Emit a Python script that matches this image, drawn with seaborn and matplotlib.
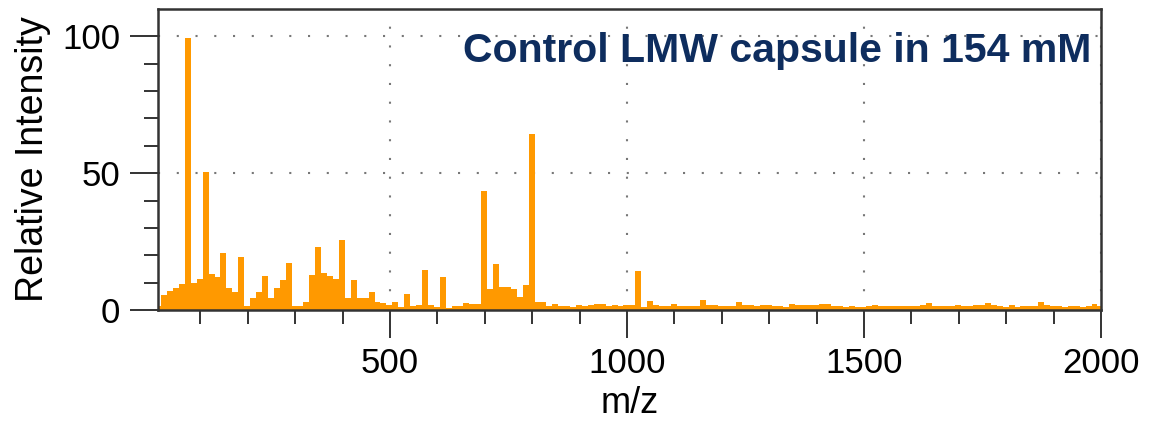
import numpy as np
import pandas as pd
import matplotlib
matplotlib.use("Agg")
import matplotlib.pyplot as plt
import seaborn as sns

# Spectrum binned at 12.5 m/z, first bin starts at m/z 5
bin_start = 5
bin_width = 12.5
intensity = [
    1.6, 5.6, 6.8, 8.0, 9.5, 99.4, 10.0, 11.5, 50.3, 13.0,
    12.0, 21.0, 8.2, 6.4, 19.2, 1.5, 4.2, 6.5, 12.5, 4.2,
    7.9, 11.0, 17.3, 1.5, 1.5, 2.8, 12.7, 23.0, 13.5, 12.4,
    11.5, 25.7, 4.5, 11.0, 4.5, 4.5, 6.7, 2.8, 2.4, 1.8,
    2.8, 1.2, 6.0, 1.5, 1.8, 14.5, 2.0, 1.2, 12.0, 0.9,
    1.5, 1.5, 2.4, 2.2, 2.2, 43.6, 7.5, 16.7, 8.5, 8.5,
    7.6, 4.8, 9.0, 64.2, 2.8, 2.8, 1.5, 2.2, 1.6, 1.6,
    1.2, 1.8, 1.5, 1.8, 2.2, 2.2, 1.6, 1.8, 1.6, 1.8,
    1.8, 14.3, 1.0, 3.3, 1.9, 1.3, 1.3, 2.3, 1.5, 1.5,
    1.6, 1.5, 3.6, 2.0, 2.0, 1.5, 1.5, 1.5, 3.0, 1.8,
    1.8, 1.6, 2.0, 2.0, 1.3, 1.3, 1.2, 2.3, 1.9, 1.9,
    1.7, 1.7, 2.1, 2.1, 1.3, 1.3, 1.2, 1.3, 1.1, 1.2,
    1.3, 1.9, 1.3, 1.3, 1.4, 1.6, 1.3, 1.3, 1.4, 1.8,
    2.4, 1.6, 1.5, 1.3, 1.3, 1.9, 1.3, 1.3, 1.8, 1.8,
    2.5, 1.8, 1.3, 1.1, 1.8, 1.2, 1.3, 1.3, 1.4, 2.8,
    1.8, 1.3, 1.3, 1.2, 1.3, 1.3, 1.2, 1.3, 2.2, 1.6,
]
x_ticks = [500, 1000, 1500, 2000]
y_ticks = [0, 50, 100]
title = "Control LMW capsule in 154 mM"

sns.set_style("ticks")
plt.rcParams['font.family'] = ['Liberation Sans', 'DejaVu Sans']

n = len(intensity)
df = pd.DataFrame({
    'mz': bin_start + bin_width * (np.arange(n) + 0.5),
    'intensity': intensity,
})

fig = plt.figure(figsize=(11.51, 4.21), dpi=100)
ax = fig.add_axes([0.137, 0.2637, 0.8196, 0.715])

sns.histplot(data=df, x='mz', weights='intensity', binwidth=bin_width,
             binrange=(bin_start, bin_start + bin_width * n),
             color='#FF9900', alpha=1, linewidth=0, ax=ax)

ax.set_xlim(10, 2000)
ax.set_ylim(0, 110)
ax.set_xticks(x_ticks)
ax.set_yticks(y_ticks)
ax.set_xticks(np.arange(100, 2000, 100), minor=True)
ax.set_yticks(np.arange(10, 110, 10), minor=True)

ax.grid(True, which='major', color='#777777', linestyle=(0, (1, 8)), linewidth=1.5)
ax.set_axisbelow(True)

for sp in ax.spines.values():
    sp.set_color('#333333')
    sp.set_linewidth(1.8)
ax.tick_params(which='major', length=20, width=1.4, color='#333333',
               labelsize=25, labelcolor='black', pad=7)
ax.tick_params(which='minor', length=10, width=1.4, color='#333333')

ax.set_xlabel('m/z', fontsize=26, labelpad=4, color='black')
ax.set_ylabel('Relative Intensity', fontsize=27, labelpad=8, color='black')

ax.text(0.99, 0.86, title, transform=ax.transAxes, ha='right', va='center',
        fontsize=29.5, fontweight='bold', color='#0E2D5E')

fig.savefig('out.png', dpi=100)
